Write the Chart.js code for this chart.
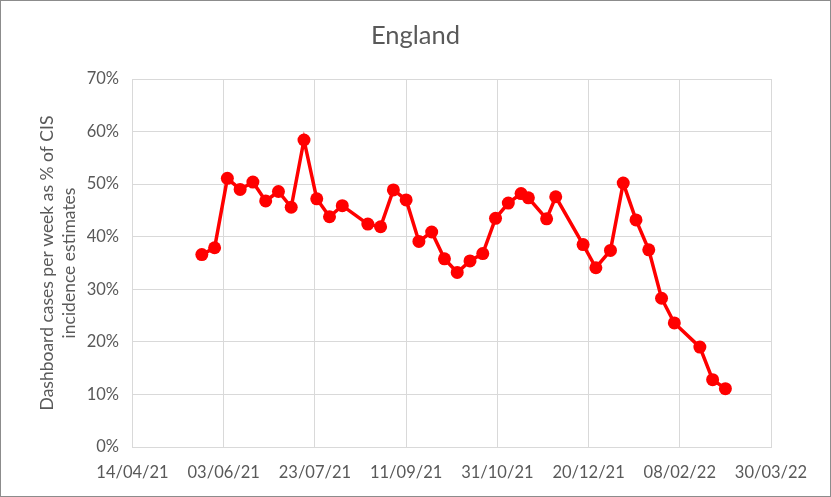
<!DOCTYPE html>
<html>
<head>
<meta charset="utf-8">
<script src="https://cdn.jsdelivr.net/npm/chart.js@4/dist/chart.umd.min.js"></script>
<style>
  html, body { margin: 0; padding: 0; background: #fff; }
  #frame { width: 831px; height: 497px; box-sizing: border-box; border: 1px solid #8c8c8c; }
  canvas { display: block; }
</style>
</head>
<body>
<div id="frame"><canvas id="chart" width="829" height="495"></canvas></div>
<script>
// ── Data ─────────────────────────────────────────────────────
const dates = [
  "22/05/21", "29/05/21", "05/06/21", "12/06/21", "19/06/21", "26/06/21",
  "03/07/21", "10/07/21", "17/07/21", "24/07/21", "31/07/21", "07/08/21",
  "21/08/21", "28/08/21", "04/09/21", "11/09/21", "18/09/21", "25/09/21",
  "02/10/21", "09/10/21", "16/10/21", "23/10/21", "30/10/21", "06/11/21",
  "13/11/21", "17/11/21", "27/11/21", "02/12/21", "17/12/21", "24/12/21",
  "01/01/22", "08/01/22", "15/01/22", "22/01/22", "29/01/22", "05/02/22",
  "19/02/22", "26/02/22", "05/03/22"
];
const ratioPct = [
  36.6, 37.9, 51.1, 49.0, 50.4, 46.8,
  48.6, 45.6, 58.4, 47.2, 43.8, 45.9,
  42.4, 41.9, 48.9, 47.0, 39.1, 40.9,
  35.8, 33.2, 35.4, 36.8, 43.5, 46.4,
  48.2, 47.4, 43.4, 47.6, 38.5, 34.1,
  37.4, 50.2, 43.2, 37.5, 28.3, 23.6,
  19.0, 12.8, 11.1
];
const xTickLabels = ["14/04/21", "03/06/21", "23/07/21", "11/09/21", "31/10/21", "20/12/21", "08/02/22", "30/03/22"];
const yTicks = [0, 10, 20, 30, 40, 50, 60, 70];

const chartTitle = "England";
const yTitle = ["Dashboard cases per week as % of CIS", "incidence estimates"];

// ── Helpers ──────────────────────────────────────────────────
// dd/mm/yy -> spreadsheet day serial (days since 30/12/1899)
function toSerial(str) {
  const [d, m, y] = str.split("/").map(Number);
  const ms = Date.UTC(2000 + y, m - 1, d) - Date.UTC(1899, 11, 30);
  return Math.round(ms / 86400000);
}

const xMin = toSerial(xTickLabels[0]);
const xMax = toSerial(xTickLabels[xTickLabels.length - 1]);
const xStep = toSerial(xTickLabels[1]) - xMin;

const points = dates.map((d, i) => ({ x: toSerial(d), y: ratioPct[i] }));

const TEXT = "#595959";
const GRID = "#d9d9d9";
const FONT = "Lato, 'Open Sans', sans-serif";

// ── Chart ────────────────────────────────────────────────────
new Chart(document.getElementById("chart").getContext("2d"), {
  type: "line",
  data: {
    datasets: [{
      data: points,
      borderColor: "#ff0000",
      backgroundColor: "#ff0000",
      borderWidth: 3.5,
      pointRadius: 6.5,
      pointHoverRadius: 6.5,
      pointBackgroundColor: "#ff0000",
      pointBorderColor: "#ff0000",
      pointBorderWidth: 0,
      tension: 0,
    }],
  },
  options: {
    responsive: false,
    animation: false,
    events: [],
    layout: { padding: 0 },
    plugins: {
      legend: { display: false },
      tooltip: { enabled: false },
      title: {
        display: true,
        text: chartTitle,
        color: TEXT,
        font: { family: FONT, size: 25.5, weight: "normal", lineHeight: 1.2 },
        padding: { top: 19.7, bottom: 27.7 },
      },
    },
    scales: {
      x: {
        type: "linear",
        min: xMin,
        max: xMax,
        afterFit: (s) => { s.height = 49; },
        afterBuildTicks: (s) => {
          s.ticks = xTickLabels.map((_, i) => ({ value: xMin + i * xStep }));
        },
        ticks: {
          color: TEXT,
          font: { family: FONT, size: 16.5, lineHeight: 1.2 },
          padding: 16,
          maxRotation: 0,
          autoSkip: false,
          callback: (v, i) => xTickLabels[i],
        },
        grid: { color: GRID, lineWidth: 1, drawTicks: false },
        border: { color: GRID, width: 1 },
      },
      y: {
        min: yTicks[0],
        max: yTicks[yTicks.length - 1],
        afterFit: (s) => { s.width = 131.5; },
        afterBuildTicks: (s) => { s.ticks = yTicks.map(v => ({ value: v })); },
        ticks: {
          color: TEXT,
          font: { family: FONT, size: 16.5 },
          padding: 13.5,
          callback: (v) => v + "%",
        },
        grid: { color: GRID, lineWidth: 1, drawTicks: false },
        border: { color: GRID, width: 1 },
        title: {
          display: true,
          text: yTitle,
          color: TEXT,
          font: { family: FONT, size: 17.5, lineHeight: 1.25 },
          padding: { top: 35.5, bottom: 0 },
        },
      },
      // empty right-hand band so the plot stops where the reference does
      yRight: {
        position: "right",
        display: true,
        afterFit: (s) => { s.width = 59; },
        grid: { display: false },
        border: { display: false },
        ticks: { display: false },
      },
    },
  },
});
</script>
</body>
</html>
